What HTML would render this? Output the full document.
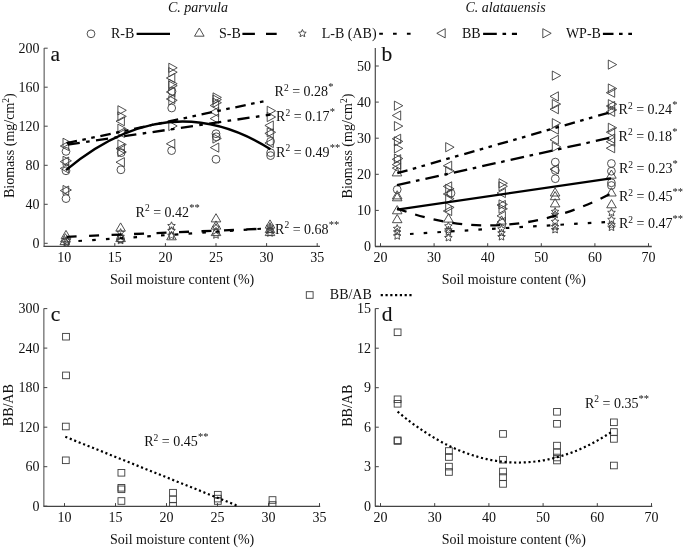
<!DOCTYPE html><html><head><meta charset="utf-8"><style>html,body{margin:0;padding:0;background:#fff;}svg{display:block;filter:grayscale(1);}text{font-family:"Liberation Serif",serif;fill:#111;}.mk{fill:none;stroke:#3c3c3c;stroke-width:0.9;}.ln{fill:none;stroke:#000;stroke-width:2.3;}</style></head><body>
<svg width="685" height="548" viewBox="0 0 685 548">
<rect width="685" height="548" fill="#fff"/>
<text x="168.0" y="12.0" text-anchor="start" style="font-size:14px;font-style:italic" >C. parvula</text>
<text x="465.5" y="11.6" text-anchor="start" style="font-size:14px;font-style:italic" >C. alatauensis</text>
<circle cx="91.0" cy="33.8" r="3.9" class="mk"/>
<text x="111.0" y="38.0" text-anchor="start" style="font-size:14px;" >R-B</text>
<line x1="136.6" y1="33.8" x2="170" y2="33.8" stroke="#000" stroke-width="2.3"/>
<path d="M199.3,28.0L204.1,36.2L194.5,36.2Z" class="mk"/>
<text x="219.0" y="38.0" text-anchor="start" style="font-size:14px;" >S-B</text>
<path d="M242.4,33.8H254.9M266,33.8H276.7" stroke="#000" stroke-width="2.3"/>
<polygon points="302.4,29.5 303.5,32.0 306.2,32.3 304.2,34.1 304.8,36.7 302.4,35.4 300.0,36.7 300.6,34.1 298.6,32.3 301.3,32.0" class="mk"/>
<text x="321.8" y="38.0" text-anchor="start" style="font-size:14px;" >L-B (AB)</text>
<path d="M379.2,33.8h3.7M393,33.8h3.7M406.9,33.8h3.7" stroke="#000" stroke-width="2.1"/>
<path d="M436.8,33.3L445.2,28.7L445.2,37.9Z" class="mk"/>
<text x="462.0" y="38.0" text-anchor="start" style="font-size:14px;" >BB</text>
<path d="M483.1,33.8H496.8M502.5,33.8h3.6M511.9,33.8H517" stroke="#000" stroke-width="2.3"/>
<path d="M551.2,33.3L542.8,28.7L542.8,37.9Z" class="mk"/>
<text x="565.9" y="38.0" text-anchor="start" style="font-size:14px;" >WP-B</text>
<path d="M602.9,33.8H613.5M619,33.8h3.6M628.3,33.8h3.7" stroke="#000" stroke-width="2.3"/>
<line x1="44.2" y1="48" x2="44.2" y2="246.5" stroke="#8a8a8a" stroke-width="1.6"/>
<line x1="44.2" y1="243.3" x2="47.7" y2="243.3" stroke="#444" stroke-width="1"/>
<text x="39.5" y="248.0" text-anchor="end" style="font-size:14px;" >0</text>
<line x1="44.2" y1="204.3" x2="47.7" y2="204.3" stroke="#444" stroke-width="1"/>
<text x="39.5" y="209.0" text-anchor="end" style="font-size:14px;" >40</text>
<line x1="44.2" y1="165.3" x2="47.7" y2="165.3" stroke="#444" stroke-width="1"/>
<text x="39.5" y="170.0" text-anchor="end" style="font-size:14px;" >80</text>
<line x1="44.2" y1="126.2" x2="47.7" y2="126.2" stroke="#444" stroke-width="1"/>
<text x="39.5" y="130.9" text-anchor="end" style="font-size:14px;" >120</text>
<line x1="44.2" y1="87.2" x2="47.7" y2="87.2" stroke="#444" stroke-width="1"/>
<text x="39.5" y="91.9" text-anchor="end" style="font-size:14px;" >160</text>
<line x1="44.2" y1="48.2" x2="47.7" y2="48.2" stroke="#444" stroke-width="1"/>
<text x="39.5" y="52.9" text-anchor="end" style="font-size:14px;" >200</text>
<line x1="43.5" y1="246.4" x2="320" y2="246.4" stroke="#444" stroke-width="1.3"/>
<line x1="64.2" y1="246.4" x2="64.2" y2="243.1" stroke="#444" stroke-width="1"/>
<text x="64.2" y="261.6" text-anchor="middle" style="font-size:14px;" >10</text>
<line x1="114.8" y1="246.4" x2="114.8" y2="243.1" stroke="#444" stroke-width="1"/>
<text x="114.8" y="261.6" text-anchor="middle" style="font-size:14px;" >15</text>
<line x1="165.4" y1="246.4" x2="165.4" y2="243.1" stroke="#444" stroke-width="1"/>
<text x="165.4" y="261.6" text-anchor="middle" style="font-size:14px;" >20</text>
<line x1="216.0" y1="246.4" x2="216.0" y2="243.1" stroke="#444" stroke-width="1"/>
<text x="216.0" y="261.6" text-anchor="middle" style="font-size:14px;" >25</text>
<line x1="266.6" y1="246.4" x2="266.6" y2="243.1" stroke="#444" stroke-width="1"/>
<text x="266.6" y="261.6" text-anchor="middle" style="font-size:14px;" >30</text>
<line x1="317.2" y1="246.4" x2="317.2" y2="243.1" stroke="#444" stroke-width="1"/>
<text x="317.2" y="261.6" text-anchor="middle" style="font-size:14px;" >35</text>
<text x="0" y="0" transform="translate(13.7,198) rotate(-90)" style="font-size:14px">Biomass (mg/cm<tspan dy="-5" style="font-size:9.5px">2</tspan><tspan dy="5">)</tspan></text>
<text x="50.5" y="60.8" text-anchor="start" style="font-size:21.5px;stroke:#111;stroke-width:0.12" >a</text>
<text x="110.0" y="284.2" text-anchor="start" style="font-size:14px;" >Soil moisture content (%)</text>
<line x1="375.3" y1="48" x2="375.3" y2="246.5" stroke="#4a4a4a" stroke-width="1.2"/>
<line x1="375.3" y1="246.5" x2="378.8" y2="246.5" stroke="#444" stroke-width="1"/>
<text x="371.0" y="251.2" text-anchor="end" style="font-size:14px;" >0</text>
<line x1="375.3" y1="210.4" x2="378.8" y2="210.4" stroke="#444" stroke-width="1"/>
<text x="371.0" y="215.1" text-anchor="end" style="font-size:14px;" >10</text>
<line x1="375.3" y1="174.3" x2="378.8" y2="174.3" stroke="#444" stroke-width="1"/>
<text x="371.0" y="179.0" text-anchor="end" style="font-size:14px;" >20</text>
<line x1="375.3" y1="138.2" x2="378.8" y2="138.2" stroke="#444" stroke-width="1"/>
<text x="371.0" y="142.9" text-anchor="end" style="font-size:14px;" >30</text>
<line x1="375.3" y1="102.1" x2="378.8" y2="102.1" stroke="#444" stroke-width="1"/>
<text x="371.0" y="106.8" text-anchor="end" style="font-size:14px;" >40</text>
<line x1="375.3" y1="66.0" x2="378.8" y2="66.0" stroke="#444" stroke-width="1"/>
<text x="371.0" y="70.7" text-anchor="end" style="font-size:14px;" >50</text>
<line x1="375" y1="246.5" x2="651.8" y2="246.5" stroke="#444" stroke-width="1.3"/>
<line x1="380.5" y1="246.5" x2="380.5" y2="243.2" stroke="#444" stroke-width="1"/>
<text x="380.5" y="261.8" text-anchor="middle" style="font-size:14px;" >20</text>
<line x1="434.1" y1="246.5" x2="434.1" y2="243.2" stroke="#444" stroke-width="1"/>
<text x="434.1" y="261.8" text-anchor="middle" style="font-size:14px;" >30</text>
<line x1="487.7" y1="246.5" x2="487.7" y2="243.2" stroke="#444" stroke-width="1"/>
<text x="487.7" y="261.8" text-anchor="middle" style="font-size:14px;" >40</text>
<line x1="541.3" y1="246.5" x2="541.3" y2="243.2" stroke="#444" stroke-width="1"/>
<text x="541.3" y="261.8" text-anchor="middle" style="font-size:14px;" >50</text>
<line x1="594.9" y1="246.5" x2="594.9" y2="243.2" stroke="#444" stroke-width="1"/>
<text x="594.9" y="261.8" text-anchor="middle" style="font-size:14px;" >60</text>
<line x1="648.5" y1="246.5" x2="648.5" y2="243.2" stroke="#444" stroke-width="1"/>
<text x="648.5" y="261.8" text-anchor="middle" style="font-size:14px;" >70</text>
<text x="0" y="0" transform="translate(352,198.4) rotate(-90)" style="font-size:14px">Biomass (mg/cm<tspan dy="-5" style="font-size:9.5px">2</tspan><tspan dy="5">)</tspan></text>
<text x="381.5" y="60.5" text-anchor="start" style="font-size:21.5px;stroke:#111;stroke-width:0.12" >b</text>
<text x="441.7" y="284.3" text-anchor="start" style="font-size:14px;" >Soil moisture content (%)</text>
<rect x="306.3" y="291.7" width="6.8" height="6.6" class="mk"/>
<text x="329.8" y="299.2" text-anchor="start" style="font-size:14px;" >BB/AB</text>
<line x1="380.7" y1="295.1" x2="411.8" y2="295.1" stroke="#000" stroke-width="2.2" stroke-dasharray="2.2,2.58"/>
<line x1="43.8" y1="308.6" x2="43.8" y2="506.6" stroke="#8a8a8a" stroke-width="1.6"/>
<line x1="43.8" y1="506.2" x2="47.3" y2="506.2" stroke="#444" stroke-width="1"/>
<text x="39.5" y="510.9" text-anchor="end" style="font-size:14px;" >0</text>
<line x1="43.8" y1="466.7" x2="47.3" y2="466.7" stroke="#444" stroke-width="1"/>
<text x="39.5" y="471.4" text-anchor="end" style="font-size:14px;" >60</text>
<line x1="43.8" y1="427.2" x2="47.3" y2="427.2" stroke="#444" stroke-width="1"/>
<text x="39.5" y="431.9" text-anchor="end" style="font-size:14px;" >120</text>
<line x1="43.8" y1="387.6" x2="47.3" y2="387.6" stroke="#444" stroke-width="1"/>
<text x="39.5" y="392.3" text-anchor="end" style="font-size:14px;" >180</text>
<line x1="43.8" y1="348.1" x2="47.3" y2="348.1" stroke="#444" stroke-width="1"/>
<text x="39.5" y="352.8" text-anchor="end" style="font-size:14px;" >240</text>
<line x1="43.8" y1="308.6" x2="47.3" y2="308.6" stroke="#444" stroke-width="1"/>
<text x="39.5" y="313.3" text-anchor="end" style="font-size:14px;" >300</text>
<line x1="43.5" y1="506.4" x2="320.2" y2="506.4" stroke="#444" stroke-width="1.3"/>
<line x1="64.5" y1="506.4" x2="64.5" y2="503.09999999999997" stroke="#444" stroke-width="1"/>
<text x="64.5" y="521.6" text-anchor="middle" style="font-size:14px;" >10</text>
<line x1="115.5" y1="506.4" x2="115.5" y2="503.09999999999997" stroke="#444" stroke-width="1"/>
<text x="115.5" y="521.6" text-anchor="middle" style="font-size:14px;" >15</text>
<line x1="166.5" y1="506.4" x2="166.5" y2="503.09999999999997" stroke="#444" stroke-width="1"/>
<text x="166.5" y="521.6" text-anchor="middle" style="font-size:14px;" >20</text>
<line x1="217.5" y1="506.4" x2="217.5" y2="503.09999999999997" stroke="#444" stroke-width="1"/>
<text x="217.5" y="521.6" text-anchor="middle" style="font-size:14px;" >25</text>
<line x1="268.5" y1="506.4" x2="268.5" y2="503.09999999999997" stroke="#444" stroke-width="1"/>
<text x="268.5" y="521.6" text-anchor="middle" style="font-size:14px;" >30</text>
<line x1="319.5" y1="506.4" x2="319.5" y2="503.09999999999997" stroke="#444" stroke-width="1"/>
<text x="319.5" y="521.6" text-anchor="middle" style="font-size:14px;" >35</text>
<text x="0" y="0" transform="translate(13.4,426.2) rotate(-90)" style="font-size:14px">BB/AB</text>
<text x="50.8" y="320.8" text-anchor="start" style="font-size:21.5px;stroke:#111;stroke-width:0.12" >c</text>
<text x="110.0" y="543.7" text-anchor="start" style="font-size:14px;" >Soil moisture content (%)</text>
<line x1="375.3" y1="308.6" x2="375.3" y2="506.6" stroke="#4a4a4a" stroke-width="1.2"/>
<line x1="375.3" y1="506.2" x2="378.8" y2="506.2" stroke="#444" stroke-width="1"/>
<text x="371.0" y="510.9" text-anchor="end" style="font-size:14px;" >0</text>
<line x1="375.3" y1="466.7" x2="378.8" y2="466.7" stroke="#444" stroke-width="1"/>
<text x="371.0" y="471.4" text-anchor="end" style="font-size:14px;" >3</text>
<line x1="375.3" y1="427.2" x2="378.8" y2="427.2" stroke="#444" stroke-width="1"/>
<text x="371.0" y="431.9" text-anchor="end" style="font-size:14px;" >6</text>
<line x1="375.3" y1="387.7" x2="378.8" y2="387.7" stroke="#444" stroke-width="1"/>
<text x="371.0" y="392.4" text-anchor="end" style="font-size:14px;" >9</text>
<line x1="375.3" y1="348.2" x2="378.8" y2="348.2" stroke="#444" stroke-width="1"/>
<text x="371.0" y="352.9" text-anchor="end" style="font-size:14px;" >12</text>
<line x1="375.3" y1="308.6" x2="378.8" y2="308.6" stroke="#444" stroke-width="1"/>
<text x="371.0" y="313.3" text-anchor="end" style="font-size:14px;" >15</text>
<line x1="375" y1="506.4" x2="652.3" y2="506.4" stroke="#444" stroke-width="1.3"/>
<line x1="380.5" y1="506.4" x2="380.5" y2="503.09999999999997" stroke="#444" stroke-width="1"/>
<text x="380.5" y="521.6" text-anchor="middle" style="font-size:14px;" >20</text>
<line x1="434.7" y1="506.4" x2="434.7" y2="503.09999999999997" stroke="#444" stroke-width="1"/>
<text x="434.7" y="521.6" text-anchor="middle" style="font-size:14px;" >30</text>
<line x1="488.9" y1="506.4" x2="488.9" y2="503.09999999999997" stroke="#444" stroke-width="1"/>
<text x="488.9" y="521.6" text-anchor="middle" style="font-size:14px;" >40</text>
<line x1="543.1" y1="506.4" x2="543.1" y2="503.09999999999997" stroke="#444" stroke-width="1"/>
<text x="543.1" y="521.6" text-anchor="middle" style="font-size:14px;" >50</text>
<line x1="597.3" y1="506.4" x2="597.3" y2="503.09999999999997" stroke="#444" stroke-width="1"/>
<text x="597.3" y="521.6" text-anchor="middle" style="font-size:14px;" >60</text>
<line x1="651.5" y1="506.4" x2="651.5" y2="503.09999999999997" stroke="#444" stroke-width="1"/>
<text x="651.5" y="521.6" text-anchor="middle" style="font-size:14px;" >70</text>
<text x="0" y="0" transform="translate(352.2,426.8) rotate(-90)" style="font-size:14px">BB/AB</text>
<text x="381.8" y="320.8" text-anchor="start" style="font-size:21.5px;stroke:#111;stroke-width:0.12" >d</text>
<text x="441.7" y="543.7" text-anchor="start" style="font-size:14px;" >Soil moisture content (%)</text>
<text x="274.6" y="96.2" style="font-size:14px">R<tspan dy="-5.5" style="font-size:9.5px">2</tspan><tspan dy="5.5"> = 0.28</tspan><tspan dx="0.2" dy="-6" style="font-size:10.5px">*</tspan></text>
<text x="276.1" y="121.4" style="font-size:14px">R<tspan dy="-5.5" style="font-size:9.5px">2</tspan><tspan dy="5.5"> = 0.17</tspan><tspan dx="0.2" dy="-6" style="font-size:10.5px">*</tspan></text>
<text x="276.1" y="156.5" style="font-size:14px">R<tspan dy="-5.5" style="font-size:9.5px">2</tspan><tspan dy="5.5"> = 0.49</tspan><tspan dx="0.2" dy="-6" style="font-size:10.5px">**</tspan></text>
<text x="135.6" y="216.5" style="font-size:14px">R<tspan dy="-5.5" style="font-size:9.5px">2</tspan><tspan dy="5.5"> = 0.42</tspan><tspan dx="0.2" dy="-6" style="font-size:10.5px">**</tspan></text>
<text x="275.1" y="233.7" style="font-size:14px">R<tspan dy="-5.5" style="font-size:9.5px">2</tspan><tspan dy="5.5"> = 0.68</tspan><tspan dx="0.2" dy="-6" style="font-size:10.5px">**</tspan></text>
<text x="618.6" y="114.4" style="font-size:14px">R<tspan dy="-5.5" style="font-size:9.5px">2</tspan><tspan dy="5.5"> = 0.24</tspan><tspan dx="0.2" dy="-6" style="font-size:10.5px">*</tspan></text>
<text x="618.6" y="140.7" style="font-size:14px">R<tspan dy="-5.5" style="font-size:9.5px">2</tspan><tspan dy="5.5"> = 0.18</tspan><tspan dx="0.2" dy="-6" style="font-size:10.5px">*</tspan></text>
<text x="618.9" y="173.2" style="font-size:14px">R<tspan dy="-5.5" style="font-size:9.5px">2</tspan><tspan dy="5.5"> = 0.23</tspan><tspan dx="0.2" dy="-6" style="font-size:10.5px">*</tspan></text>
<text x="618.9" y="201.1" style="font-size:14px">R<tspan dy="-5.5" style="font-size:9.5px">2</tspan><tspan dy="5.5"> = 0.45</tspan><tspan dx="0.2" dy="-6" style="font-size:10.5px">**</tspan></text>
<text x="618.9" y="228.2" style="font-size:14px">R<tspan dy="-5.5" style="font-size:9.5px">2</tspan><tspan dy="5.5"> = 0.47</tspan><tspan dx="0.2" dy="-6" style="font-size:10.5px">**</tspan></text>
<text x="144.2" y="446.2" style="font-size:14px">R<tspan dy="-5.5" style="font-size:9.5px">2</tspan><tspan dy="5.5"> = 0.45</tspan><tspan dx="0.2" dy="-6" style="font-size:10.5px">**</tspan></text>
<text x="584.9" y="407.6" style="font-size:14px">R<tspan dy="-5.5" style="font-size:9.5px">2</tspan><tspan dy="5.5"> = 0.35</tspan><tspan dx="0.2" dy="-6" style="font-size:10.5px">**</tspan></text>
<path d="M71.4,142.8L63.0,138.2L63.0,147.4Z" class="mk"/>
<path d="M60.3,146.0L68.7,141.4L68.7,150.6Z" class="mk"/>
<circle cx="66.0" cy="151.4" r="3.9" class="mk"/>
<path d="M71.4,160.8L63.0,156.2L63.0,165.4Z" class="mk"/>
<path d="M60.3,161.6L68.7,157.0L68.7,166.2Z" class="mk"/>
<path d="M60.3,168.4L68.7,163.8L68.7,173.0Z" class="mk"/>
<circle cx="66.0" cy="170.8" r="3.9" class="mk"/>
<path d="M71.4,190.0L63.0,185.4L63.0,194.6Z" class="mk"/>
<path d="M60.3,190.6L68.7,186.0L68.7,195.2Z" class="mk"/>
<circle cx="66.0" cy="198.6" r="3.9" class="mk"/>
<path d="M66.0,230.4L70.8,238.6L61.2,238.6Z" class="mk"/>
<path d="M65.4,233.7L70.2,241.9L60.6,241.9Z" class="mk"/>
<path d="M64.8,236.4L69.6,244.6L60.0,244.6Z" class="mk"/>
<polygon points="67.0,236.8 68.1,239.3 70.8,239.6 68.8,241.4 69.4,244.0 67.0,242.7 64.6,244.0 65.2,241.4 63.2,239.6 65.9,239.3" class="mk"/>
<polygon points="66.5,239.2 67.6,241.7 70.3,242.0 68.3,243.8 68.9,246.4 66.5,245.1 64.1,246.4 64.7,243.8 62.7,242.0 65.4,241.7" class="mk"/>
<path d="M126.3,110.3L117.9,105.7L117.9,114.9Z" class="mk"/>
<path d="M126.3,116.4L117.9,111.8L117.9,121.0Z" class="mk"/>
<path d="M116.0,121.2L124.4,116.6L124.4,125.8Z" class="mk"/>
<path d="M126.3,128.7L117.9,124.1L117.9,133.3Z" class="mk"/>
<path d="M116.0,132.8L124.4,128.2L124.4,137.4Z" class="mk"/>
<path d="M126.3,144.5L117.9,139.9L117.9,149.1Z" class="mk"/>
<path d="M116.0,148.6L124.4,144.0L124.4,153.2Z" class="mk"/>
<path d="M126.3,152.0L117.9,147.4L117.9,156.6Z" class="mk"/>
<circle cx="121.2" cy="152.7" r="3.9" class="mk"/>
<path d="M116.0,162.2L124.4,157.6L124.4,166.8Z" class="mk"/>
<circle cx="120.9" cy="169.8" r="3.9" class="mk"/>
<path d="M120.6,222.9L125.4,231.1L115.8,231.1Z" class="mk"/>
<polygon points="120.6,228.6 121.7,231.1 124.4,231.4 122.4,233.2 123.0,235.8 120.6,234.5 118.2,235.8 118.8,233.2 116.8,231.4 119.5,231.1" class="mk"/>
<polygon points="120.6,232.6 121.7,235.1 124.4,235.4 122.4,237.2 123.0,239.8 120.6,238.5 118.2,239.8 118.8,237.2 116.8,235.4 119.5,235.1" class="mk"/>
<path d="M120.6,233.4L125.4,241.6L115.8,241.6Z" class="mk"/>
<polygon points="120.6,236.6 121.7,239.1 124.4,239.4 122.4,241.2 123.0,243.8 120.6,242.5 118.2,243.8 118.8,241.2 116.8,239.4 119.5,239.1" class="mk"/>
<circle cx="120.6" cy="239.0" r="3.9" class="mk"/>
<path d="M177.2,67.8L168.8,63.2L168.8,72.4Z" class="mk"/>
<path d="M177.2,72.2L168.8,67.6L168.8,76.8Z" class="mk"/>
<path d="M166.4,78.0L174.8,73.4L174.8,82.6Z" class="mk"/>
<path d="M177.2,83.7L168.8,79.1L168.8,88.3Z" class="mk"/>
<path d="M177.2,85.7L168.8,81.1L168.8,90.3Z" class="mk"/>
<path d="M166.4,92.0L174.8,87.4L174.8,96.6Z" class="mk"/>
<circle cx="172.0" cy="91.4" r="3.9" class="mk"/>
<path d="M166.4,99.0L174.8,94.4L174.8,103.6Z" class="mk"/>
<path d="M177.2,100.3L168.8,95.7L168.8,104.9Z" class="mk"/>
<circle cx="171.7" cy="108.0" r="3.9" class="mk"/>
<path d="M177.2,126.0L168.8,121.4L168.8,130.6Z" class="mk"/>
<path d="M166.4,143.8L174.8,139.2L174.8,148.4Z" class="mk"/>
<circle cx="171.6" cy="150.6" r="3.9" class="mk"/>
<polygon points="171.5,221.8 172.6,224.3 175.3,224.6 173.3,226.4 173.9,229.0 171.5,227.7 169.1,229.0 169.7,226.4 167.7,224.6 170.4,224.3" class="mk"/>
<polygon points="171.5,226.8 172.6,229.3 175.3,229.6 173.3,231.4 173.9,234.0 171.5,232.7 169.1,234.0 169.7,231.4 167.7,229.6 170.4,229.3" class="mk"/>
<polygon points="171.5,231.6 172.6,234.1 175.3,234.4 173.3,236.2 173.9,238.8 171.5,237.5 169.1,238.8 169.7,236.2 167.7,234.4 170.4,234.1" class="mk"/>
<path d="M171.5,231.6L176.3,239.8L166.7,239.8Z" class="mk"/>
<path d="M221.4,97.4L213.0,92.8L213.0,102.0Z" class="mk"/>
<path d="M221.4,99.6L213.0,95.0L213.0,104.2Z" class="mk"/>
<path d="M221.4,102.7L213.0,98.1L213.0,107.3Z" class="mk"/>
<path d="M210.2,105.5L218.6,100.9L218.6,110.1Z" class="mk"/>
<path d="M210.2,112.0L218.6,107.4L218.6,116.6Z" class="mk"/>
<path d="M210.2,118.6L218.6,114.0L218.6,123.2Z" class="mk"/>
<circle cx="216.0" cy="133.7" r="3.9" class="mk"/>
<circle cx="216.3" cy="136.8" r="3.9" class="mk"/>
<path d="M221.3,138.5L212.9,133.9L212.9,143.1Z" class="mk"/>
<path d="M210.4,147.6L218.8,143.0L218.8,152.2Z" class="mk"/>
<circle cx="216.0" cy="159.3" r="3.9" class="mk"/>
<path d="M216.0,213.7L220.8,221.9L211.2,221.9Z" class="mk"/>
<path d="M216.0,220.9L220.8,229.1L211.2,229.1Z" class="mk"/>
<polygon points="216.0,223.6 217.1,226.1 219.8,226.4 217.8,228.2 218.4,230.8 216.0,229.5 213.6,230.8 214.2,228.2 212.2,226.4 214.9,226.1" class="mk"/>
<path d="M216.0,227.4L220.8,235.6L211.2,235.6Z" class="mk"/>
<polygon points="216.0,231.1 217.1,233.6 219.8,233.9 217.8,235.7 218.4,238.3 216.0,237.0 213.6,238.3 214.2,235.7 212.2,233.9 214.9,233.6" class="mk"/>
<path d="M275.6,110.8L267.2,106.2L267.2,115.4Z" class="mk"/>
<path d="M275.6,117.0L267.2,112.4L267.2,121.6Z" class="mk"/>
<path d="M264.9,125.5L273.3,120.9L273.3,130.1Z" class="mk"/>
<path d="M275.6,132.3L267.2,127.7L267.2,136.9Z" class="mk"/>
<path d="M264.9,133.4L273.3,128.8L273.3,138.0Z" class="mk"/>
<circle cx="270.6" cy="141.4" r="3.9" class="mk"/>
<path d="M264.9,143.0L273.3,138.4L273.3,147.6Z" class="mk"/>
<circle cx="270.6" cy="152.7" r="3.9" class="mk"/>
<circle cx="270.6" cy="155.6" r="3.9" class="mk"/>
<path d="M270.0,219.9L274.8,228.1L265.2,228.1Z" class="mk"/>
<polygon points="270.0,222.6 271.1,225.1 273.8,225.4 271.8,227.2 272.4,229.8 270.0,228.5 267.6,229.8 268.2,227.2 266.2,225.4 268.9,225.1" class="mk"/>
<path d="M270.0,224.4L274.8,232.6L265.2,232.6Z" class="mk"/>
<polygon points="270.0,226.1 271.1,228.6 273.8,228.9 271.8,230.7 272.4,233.3 270.0,232.0 267.6,233.3 268.2,230.7 266.2,228.9 268.9,228.6" class="mk"/>
<polygon points="270.0,229.1 271.1,231.6 273.8,231.9 271.8,233.7 272.4,236.3 270.0,235.0 267.6,236.3 268.2,233.7 266.2,231.9 268.9,231.6" class="mk"/>
<path d="M270.0,227.4L274.8,235.6L265.2,235.6Z" class="mk"/>
<path d="M66.0,170.1Q168.2,84.8 270.5,149.2" fill="none" stroke="#000" stroke-width="2.4" stroke-linecap="butt"/>
<path d="M66.6,143.2L268,100.3" fill="none" stroke="#000" stroke-width="2.3" stroke-linecap="butt" stroke-dasharray="10.6,5.5,3.6,5.5,3.6,5.7"/>
<path d="M67.7,144.6L270.5,114.6" fill="none" stroke="#000" stroke-width="2.3" stroke-linecap="butt" stroke-dasharray="12.2,6.4,3.6,6.4"/>
<path d="M66.6,236.8L268,228.5" fill="none" stroke="#000" stroke-width="2.3" stroke-linecap="butt" stroke-dasharray="10,12.5"/>
<path d="M78.4,241L268,228.3" fill="none" stroke="#000" stroke-width="2.2" stroke-linecap="butt" stroke-dasharray="3.6,10.2"/>
<path d="M402.8,105.7L394.4,101.1L394.4,110.3Z" class="mk"/>
<path d="M392.3,115.5L400.7,110.9L400.7,120.1Z" class="mk"/>
<path d="M402.8,126.1L394.4,121.5L394.4,130.7Z" class="mk"/>
<path d="M392.3,138.8L400.7,134.2L400.7,143.4Z" class="mk"/>
<path d="M402.8,141.4L394.4,136.8L394.4,146.0Z" class="mk"/>
<path d="M402.8,148.4L394.4,143.8L394.4,153.0Z" class="mk"/>
<path d="M402.8,158.5L394.4,153.9L394.4,163.1Z" class="mk"/>
<path d="M392.3,159.3L400.7,154.7L400.7,163.9Z" class="mk"/>
<path d="M392.3,164.6L400.7,160.0L400.7,169.2Z" class="mk"/>
<path d="M392.3,168.1L400.7,163.5L400.7,172.7Z" class="mk"/>
<path d="M397.0,167.7L401.8,175.9L392.2,175.9Z" class="mk"/>
<circle cx="397.2" cy="189.5" r="3.9" class="mk"/>
<path d="M397.2,190.7L402.0,198.9L392.4,198.9Z" class="mk"/>
<path d="M397.2,192.6L402.0,200.8L392.4,200.8Z" class="mk"/>
<path d="M397.2,205.6L402.0,213.8L392.4,213.8Z" class="mk"/>
<path d="M397.2,214.5L402.0,222.7L392.4,222.7Z" class="mk"/>
<polygon points="397.2,224.6 398.3,227.1 401.0,227.4 399.0,229.2 399.6,231.8 397.2,230.5 394.8,231.8 395.4,229.2 393.4,227.4 396.1,227.1" class="mk"/>
<polygon points="397.2,228.1 398.3,230.6 401.0,230.9 399.0,232.7 399.6,235.3 397.2,234.0 394.8,235.3 395.4,232.7 393.4,230.9 396.1,230.6" class="mk"/>
<polygon points="397.2,232.1 398.3,234.6 401.0,234.9 399.0,236.7 399.6,239.3 397.2,238.0 394.8,239.3 395.4,236.7 393.4,234.9 396.1,234.6" class="mk"/>
<path d="M454.1,147.2L445.7,142.6L445.7,151.8Z" class="mk"/>
<path d="M443.3,165.8L451.7,161.2L451.7,170.4Z" class="mk"/>
<path d="M454.1,170.9L445.7,166.3L445.7,175.5Z" class="mk"/>
<path d="M443.3,186.4L451.7,181.8L451.7,191.0Z" class="mk"/>
<path d="M454.1,188.8L445.7,184.2L445.7,193.4Z" class="mk"/>
<path d="M443.3,194.0L451.7,189.4L451.7,198.6Z" class="mk"/>
<path d="M454.1,198.7L445.7,194.1L445.7,203.3Z" class="mk"/>
<path d="M454.1,207.4L445.7,202.8L445.7,212.0Z" class="mk"/>
<path d="M443.3,211.0L451.7,206.4L451.7,215.6Z" class="mk"/>
<path d="M448.4,213.9L453.2,222.1L443.6,222.1Z" class="mk"/>
<polygon points="448.4,222.1 449.5,224.6 452.2,224.9 450.2,226.7 450.8,229.3 448.4,228.0 446.0,229.3 446.6,226.7 444.6,224.9 447.3,224.6" class="mk"/>
<polygon points="448.4,226.1 449.5,228.6 452.2,228.9 450.2,230.7 450.8,233.3 448.4,232.0 446.0,233.3 446.6,230.7 444.6,228.9 447.3,228.6" class="mk"/>
<polygon points="448.4,228.2 449.5,230.7 452.2,231.0 450.2,232.8 450.8,235.4 448.4,234.1 446.0,235.4 446.6,232.8 444.6,231.0 447.3,230.7" class="mk"/>
<polygon points="448.4,233.8 449.5,236.3 452.2,236.6 450.2,238.4 450.8,241.0 448.4,239.7 446.0,241.0 446.6,238.4 444.6,236.6 447.3,236.3" class="mk"/>
<circle cx="451.0" cy="193.2" r="3.9" class="mk"/>
<path d="M507.4,183.3L499.0,178.7L499.0,187.9Z" class="mk"/>
<path d="M507.4,186.3L499.0,181.7L499.0,190.9Z" class="mk"/>
<path d="M497.0,193.0L505.4,188.4L505.4,197.6Z" class="mk"/>
<path d="M507.4,204.4L499.0,199.8L499.0,209.0Z" class="mk"/>
<path d="M497.0,205.0L505.4,200.4L505.4,209.6Z" class="mk"/>
<path d="M507.4,208.8L499.0,204.2L499.0,213.4Z" class="mk"/>
<path d="M497.0,215.9L505.4,211.3L505.4,220.5Z" class="mk"/>
<path d="M501.5,215.9L506.3,224.1L496.7,224.1Z" class="mk"/>
<path d="M497.0,222.0L505.4,217.4L505.4,226.6Z" class="mk"/>
<polygon points="501.5,225.1 502.6,227.6 505.3,227.9 503.3,229.7 503.9,232.3 501.5,231.0 499.1,232.3 499.7,229.7 497.7,227.9 500.4,227.6" class="mk"/>
<polygon points="501.5,229.1 502.6,231.6 505.3,231.9 503.3,233.7 503.9,236.3 501.5,235.0 499.1,236.3 499.7,233.7 497.7,231.9 500.4,231.6" class="mk"/>
<polygon points="501.5,232.9 502.6,235.4 505.3,235.7 503.3,237.5 503.9,240.1 501.5,238.8 499.1,240.1 499.7,237.5 497.7,235.7 500.4,235.4" class="mk"/>
<path d="M560.7,75.6L552.3,71.0L552.3,80.2Z" class="mk"/>
<path d="M550.0,96.4L558.4,91.8L558.4,101.0Z" class="mk"/>
<path d="M560.7,104.1L552.3,99.5L552.3,108.7Z" class="mk"/>
<path d="M550.0,109.2L558.4,104.6L558.4,113.8Z" class="mk"/>
<path d="M560.7,123.2L552.3,118.6L552.3,127.8Z" class="mk"/>
<path d="M550.0,129.6L558.4,125.0L558.4,134.2Z" class="mk"/>
<path d="M550.0,139.8L558.4,135.2L558.4,144.4Z" class="mk"/>
<path d="M560.7,146.8L552.3,142.2L552.3,151.4Z" class="mk"/>
<circle cx="555.3" cy="162.1" r="3.9" class="mk"/>
<path d="M550.0,169.2L558.4,164.6L558.4,173.8Z" class="mk"/>
<circle cx="555.3" cy="170.4" r="3.9" class="mk"/>
<circle cx="555.3" cy="178.7" r="3.9" class="mk"/>
<path d="M555.1,187.8L559.9,196.0L550.3,196.0Z" class="mk"/>
<path d="M555.1,191.5L559.9,199.7L550.3,199.7Z" class="mk"/>
<path d="M555.1,198.7L559.9,206.9L550.3,206.9Z" class="mk"/>
<polygon points="555.1,207.6 556.2,210.1 558.9,210.4 556.9,212.2 557.5,214.8 555.1,213.5 552.7,214.8 553.3,212.2 551.3,210.4 554.0,210.1" class="mk"/>
<polygon points="555.1,210.6 556.2,213.1 558.9,213.4 556.9,215.2 557.5,217.8 555.1,216.5 552.7,217.8 553.3,215.2 551.3,213.4 554.0,213.1" class="mk"/>
<polygon points="555.1,217.6 556.2,220.1 558.9,220.4 556.9,222.2 557.5,224.8 555.1,223.5 552.7,224.8 553.3,222.2 551.3,220.4 554.0,220.1" class="mk"/>
<polygon points="555.1,222.8 556.2,225.3 558.9,225.6 556.9,227.4 557.5,230.0 555.1,228.7 552.7,230.0 553.3,227.4 551.3,225.6 554.0,225.3" class="mk"/>
<polygon points="555.1,225.8 556.2,228.3 558.9,228.6 556.9,230.4 557.5,233.0 555.1,231.7 552.7,233.0 553.3,230.4 551.3,228.6 554.0,228.3" class="mk"/>
<path d="M616.7,64.6L608.3,60.0L608.3,69.2Z" class="mk"/>
<path d="M616.7,88.5L608.3,83.9L608.3,93.1Z" class="mk"/>
<path d="M606.3,92.7L614.7,88.1L614.7,97.3Z" class="mk"/>
<path d="M616.7,104.2L608.3,99.6L608.3,108.8Z" class="mk"/>
<path d="M606.3,106.0L614.7,101.4L614.7,110.6Z" class="mk"/>
<path d="M616.7,109.9L608.3,105.3L608.3,114.5Z" class="mk"/>
<path d="M606.3,111.8L614.7,107.2L614.7,116.4Z" class="mk"/>
<path d="M616.7,127.8L608.3,123.2L608.3,132.4Z" class="mk"/>
<path d="M606.3,132.2L614.7,127.6L614.7,136.8Z" class="mk"/>
<path d="M606.3,138.6L614.7,134.0L614.7,143.2Z" class="mk"/>
<path d="M606.3,141.8L614.7,137.2L614.7,146.4Z" class="mk"/>
<path d="M606.3,148.2L614.7,143.6L614.7,152.8Z" class="mk"/>
<circle cx="611.4" cy="163.5" r="3.9" class="mk"/>
<circle cx="611.4" cy="171.2" r="3.9" class="mk"/>
<path d="M611.4,170.0L616.2,178.2L606.6,178.2Z" class="mk"/>
<circle cx="611.4" cy="182.8" r="3.9" class="mk"/>
<circle cx="611.4" cy="185.5" r="3.9" class="mk"/>
<path d="M611.4,187.8L616.2,196.0L606.6,196.0Z" class="mk"/>
<path d="M611.5,199.6L616.3,207.8L606.7,207.8Z" class="mk"/>
<polygon points="611.5,208.6 612.6,211.1 615.3,211.4 613.3,213.2 613.9,215.8 611.5,214.5 609.1,215.8 609.7,213.2 607.7,211.4 610.4,211.1" class="mk"/>
<polygon points="611.5,215.6 612.6,218.1 615.3,218.4 613.3,220.2 613.9,222.8 611.5,221.5 609.1,222.8 609.7,220.2 607.7,218.4 610.4,218.1" class="mk"/>
<polygon points="611.5,220.9 612.6,223.4 615.3,223.7 613.3,225.5 613.9,228.1 611.5,226.8 609.1,228.1 609.7,225.5 607.7,223.7 610.4,223.4" class="mk"/>
<polygon points="611.5,223.4 612.6,225.9 615.3,226.2 613.3,228.0 613.9,230.6 611.5,229.3 609.1,230.6 609.7,228.0 607.7,226.2 610.4,225.9" class="mk"/>
<path d="M397.3,173.2L609.4,112.5" fill="none" stroke="#000" stroke-width="2.3" stroke-linecap="butt" stroke-dasharray="10.6,5.5,3.6,5.5,3.6,6.02"/>
<path d="M397,185.2L609.4,137.9" fill="none" stroke="#000" stroke-width="2.3" stroke-linecap="butt" stroke-dasharray="13.7,5.7,3.6,6.1"/>
<path d="M397.2,209.6L611,178.4" fill="none" stroke="#000" stroke-width="2.3" stroke-linecap="butt"/>
<path d="M397.0,208.3Q503.2,248.6 609.5,194.3" fill="none" stroke="#000" stroke-width="2.3" stroke-linecap="butt" stroke-dasharray="10,9.07"/>
<path d="M410.0,234.0Q509.5,227.6 609.0,221.9" fill="none" stroke="#000" stroke-width="2.2" stroke-linecap="butt" stroke-dasharray="3.6,10.1"/>
<clipPath id="cpc"><rect x="44" y="300" width="610" height="206.4"/></clipPath>
<g clip-path="url(#cpc)">
<rect x="62.6" y="333.4" width="6.8" height="6.6" class="mk"/>
<rect x="62.6" y="372.1" width="6.8" height="6.6" class="mk"/>
<rect x="62.4" y="423.2" width="6.8" height="6.6" class="mk"/>
<rect x="62.4" y="457.0" width="6.8" height="6.6" class="mk"/>
<rect x="118.0" y="469.5" width="6.8" height="6.6" class="mk"/>
<rect x="118.0" y="484.5" width="6.8" height="6.6" class="mk"/>
<rect x="118.0" y="486.0" width="6.8" height="6.6" class="mk"/>
<rect x="118.0" y="497.7" width="6.8" height="6.6" class="mk"/>
<rect x="169.6" y="489.4" width="6.8" height="6.6" class="mk"/>
<rect x="169.6" y="496.1" width="6.8" height="6.6" class="mk"/>
<rect x="169.6" y="502.4" width="6.8" height="6.6" class="mk"/>
<rect x="214.4" y="491.4" width="6.8" height="6.6" class="mk"/>
<rect x="214.4" y="495.3" width="6.8" height="6.6" class="mk"/>
<rect x="214.4" y="497.7" width="6.8" height="6.6" class="mk"/>
<rect x="269.1" y="496.7" width="6.8" height="6.6" class="mk"/>
<rect x="269.1" y="501.7" width="6.8" height="6.6" class="mk"/>
</g>
<path d="M65.3,436.8L237.8,505.9" fill="none" stroke="#000" stroke-width="2.2" stroke-linecap="butt" stroke-dasharray="2.1,2.7"/>
<g clip-path="url(#cpc)">
<rect x="394.2" y="329.0" width="6.8" height="6.6" class="mk"/>
<rect x="394.2" y="396.0" width="6.8" height="6.6" class="mk"/>
<rect x="394.2" y="400.5" width="6.8" height="6.6" class="mk"/>
<rect x="394.2" y="437.0" width="6.8" height="6.6" class="mk"/>
<rect x="394.2" y="437.7" width="6.8" height="6.6" class="mk"/>
<rect x="445.5" y="447.7" width="6.8" height="6.6" class="mk"/>
<rect x="445.5" y="453.7" width="6.8" height="6.6" class="mk"/>
<rect x="445.5" y="463.3" width="6.8" height="6.6" class="mk"/>
<rect x="445.5" y="468.7" width="6.8" height="6.6" class="mk"/>
<rect x="499.6" y="430.6" width="6.8" height="6.6" class="mk"/>
<rect x="499.6" y="456.4" width="6.8" height="6.6" class="mk"/>
<rect x="499.6" y="468.2" width="6.8" height="6.6" class="mk"/>
<rect x="499.6" y="473.8" width="6.8" height="6.6" class="mk"/>
<rect x="499.6" y="480.6" width="6.8" height="6.6" class="mk"/>
<rect x="553.6" y="408.5" width="6.8" height="6.6" class="mk"/>
<rect x="553.6" y="420.5" width="6.8" height="6.6" class="mk"/>
<rect x="553.6" y="442.3" width="6.8" height="6.6" class="mk"/>
<rect x="553.6" y="449.0" width="6.8" height="6.6" class="mk"/>
<rect x="553.6" y="454.2" width="6.8" height="6.6" class="mk"/>
<rect x="553.6" y="457.2" width="6.8" height="6.6" class="mk"/>
<rect x="610.5" y="419.0" width="6.8" height="6.6" class="mk"/>
<rect x="610.5" y="428.7" width="6.8" height="6.6" class="mk"/>
<rect x="610.5" y="435.6" width="6.8" height="6.6" class="mk"/>
<rect x="610.5" y="462.2" width="6.8" height="6.6" class="mk"/>
</g>
<path d="M397.6,411.6Q504.8,502.2 612.0,431.7" fill="none" stroke="#000" stroke-width="2.2" stroke-linecap="butt" stroke-dasharray="2.1,2.7"/>
</svg></body></html>
